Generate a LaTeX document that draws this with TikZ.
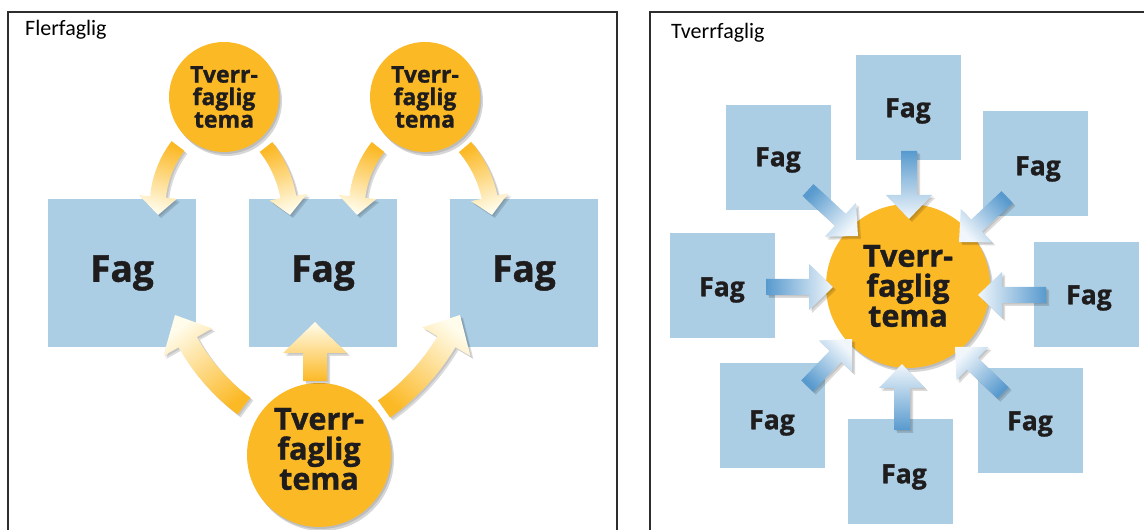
\documentclass[tikz,border=0pt]{standalone}
\usepackage{fontspec}
\setmainfont{Carlito}
\newfontfamily\osans{Open Sans}[BoldFeatures={FakeBold=1.2}]
\usetikzlibrary{calc,shadows}
\definecolor{temaor}{RGB}{252,185,38}
\definecolor{fagblue}{RGB}{171,206,229}
\definecolor{bluetail}{RGB}{88,154,206}
\definecolor{bluetip}{RGB}{240,246,251}
\definecolor{ortip}{RGB}{255,252,236}
\definecolor{txtcol}{RGB}{30,28,29}
\definecolor{framecol}{RGB}{45,45,45}

% block arrow: #1 tail, #2 tip, #3 bend, #4 shaft half width, #5 head half width, #6 head length, #7 tail colour, #8 tip colour
\newcommand\blockarrow[8]{%
  \path (#1); \pgfgetlastxy{\baTx}{\baTy}%
  \path (#2); \pgfgetlastxy{\baPx}{\baPy}%
  \pgfmathsetmacro\baph{atan2(\baPy-\baTy,\baPx-\baTx)}%
  \pgfmathsetmacro\bahd{\baph-(#3)}%
  \pgfmathsetmacro\baBx{\baPx-(#6)*cos(\bahd)}%
  \pgfmathsetmacro\baBy{\baPy-(#6)*sin(\bahd)}%
  \pgfmathsetmacro\baps{atan2(\baBy-\baTy,\baBx-\baTx)}%
  \pgfmathsetmacro\baL{veclen(\baBx-\baTx,\baBy-\baTy)}%
  \pgfmathsetmacro\bata{\baps+(#3)}%
  \pgfmathsetmacro\batb{\baps-(#3)}%
  \pgfmathsetmacro\bak{\baL/(3*cos((#3)/2)^2)}%
  \pgfmathsetmacro\bakL{\bak*(1+2*(#4)*sin(#3)/\baL)}%
  \pgfmathsetmacro\bakR{\bak*(1-2*(#4)*sin(#3)/\baL)}%
  \pgfmathsetmacro\basa{\baph-90}%
  \shade[arrowshadow, top color=#8, bottom color=#7, shading angle=\basa]
    ($(\baTx,\baTy)+({\bata+90}:#4)$)
    .. controls ($(\baTx,\baTy)+({\bata+90}:#4)+(\bata:\bakL)$)
           and ($(\baBx,\baBy)+({\batb+90}:#4)+({\batb+180}:\bakL)$)
    .. ($(\baBx,\baBy)+({\batb+90}:#4)$)
    -- ($(\baBx,\baBy)+({\batb+90}:#5)$)
    -- (#2)
    -- ($(\baBx,\baBy)+({\batb-90}:#5)$)
    -- ($(\baBx,\baBy)+({\batb-90}:#4)$)
    .. controls ($(\baBx,\baBy)+({\batb-90}:#4)+({\batb+180}:\bakR)$)
           and ($(\baTx,\baTy)+({\bata-90}:#4)+(\bata:\bakR)$)
    .. ($(\baTx,\baTy)+({\bata-90}:#4)$) -- cycle;
}

\begin{document}
\begin{tikzpicture}[x=1pt,y=1pt,
  framestyle/.style={draw=framecol, line width=1.5pt},
  lbl/.style={inner sep=0pt, anchor=base west, font=\fontsize{22}{24}\selectfont},
  arrowshadow/.style={general shadow={fill=black, opacity=.10, shadow xshift=1.5pt, shadow yshift=-1.5pt},
                      general shadow={fill=black, opacity=.14, shadow xshift=3pt, shadow yshift=-3pt}},
  circshadow/.style={general shadow={fill=black, opacity=.12, shadow xshift=1.5pt, shadow yshift=-2pt},
                     general shadow={fill=black, opacity=.16, shadow xshift=3pt, shadow yshift=-4pt}},
  lbox/.style={fill=fagblue, minimum width=148, minimum height=148, inner sep=0pt, text=txtcol,
               font=\osans\bfseries\fontsize{37}{40}\selectfont},
  rbox/.style={fill=fagblue, minimum width=105, minimum height=105, inner sep=0pt},
  rfag/.style={text=txtcol, inner sep=0pt, font=\osans\bfseries\fontsize{26.5}{30}\selectfont},
  scirc/.style={circle, circshadow, fill=temaor, minimum size=110, inner sep=0pt, align=center, text=txtcol,
                font=\osans\bfseries\fontsize{23}{22.5}\selectfont},
  bcirc/.style={circle, circshadow, fill=temaor, inner sep=0pt},
  btxt/.style={align=center, text=txtcol, inner sep=0pt, font=\osans\bfseries\fontsize{30.5}{30}\selectfont}
]
\useasboundingbox (0,0) rectangle (1144,530);

% ---------------- left panel ----------------
\draw[framestyle] (8,-3) -- (8,518) -- (617,518) -- (617,-3);
\node[lbl] (lab1) at (25,494) {Flerfaglig};

\node[lbox] (f1) at (122,257) {Fag};
\node[lbox] (f2) at (323,257) {Fag};
\node[lbox] (f3) at (524,257) {Fag};

\node[scirc] (t1) at (224,433) {Tverr-\\faglig\\tema};
\node[scirc] (t2) at (425,433) {Tverr-\\faglig\\tema};

\node[bcirc, minimum size=144] (tb) at (319,75) {};
\node[btxt] (tbt) at ($(tb)+(0,6)$) {Tverr-\\faglig\\tema};

\coordinate (a1t) at (178,384); \coordinate (a1p) at (158,315);
\coordinate (a2t) at (266,383); \coordinate (a2p) at (290,315);
\coordinate (a3t) at (378,383); \coordinate (a3p) at (357,315);
\coordinate (a4t) at (465,383); \coordinate (a4p) at (492,315);
\blockarrow{a1t}{a1p}{-16}{8}{19}{18}{temaor}{ortip}
\blockarrow{a2t}{a2p}{14}{8}{19}{18}{temaor}{ortip}
\blockarrow{a3t}{a3p}{-16}{8}{19}{18}{temaor}{ortip}
\blockarrow{a4t}{a4p}{14}{8}{19}{18}{temaor}{ortip}

\coordinate (b1t) at (244,124); \coordinate (b1p) at (175,215);
\coordinate (b2t) at (315,149); \coordinate (b2p) at (315,208);
\coordinate (b3t) at (384,121); \coordinate (b3p) at (460,215);
\blockarrow{b1t}{b1p}{12}{10.5}{28}{30}{temaor}{ortip}
\blockarrow{b2t}{b2p}{0}{12}{32}{31}{temaor}{ortip}
\blockarrow{b3t}{b3p}{-12}{10.5}{28}{30}{temaor}{ortip}

% ---------------- right panel ----------------
\draw[framestyle] (650,-3) -- (650,518) -- (1147,518);
\node[lbl] (lab2) at (671,491) {Tverrfaglig};

\node[rbox, label={[rfag, yshift=-3]center:Fag}] (r1) at (908,422) {};
\node[rbox, label={[rfag, yshift=-2]center:Fag}] (r2) at (778,372) {};
\node[rbox, label={[rfag, xshift=3, yshift=-5]center:Fag}] (r3) at (1035,366) {};
\node[rbox, label={[rfag, yshift=-4]center:Fag}] (r4) at (722,244) {};
\node[rbox, label={[rfag, xshift=3, yshift=-3]center:Fag}] (r5) at (1086,235) {};
\node[rbox, label={[rfag, yshift=-7]center:Fag}] (r6) at (772,114) {};
\node[rbox, label={[rfag, xshift=4, yshift=-5]center:Fag}] (r7) at (900,58) {};
\node[rbox, label={[rfag, yshift=-3]center:Fag}] (r8) at (1030,109) {};

\node[bcirc, minimum size=164, align=center, text=txtcol,
      font=\osans\bfseries\fontsize{30.5}{30}\selectfont] (tc) at (908,244) {Tverr-\\faglig\\tema};

\coordinate (p1t) at (909,379);  \coordinate (p1p) at (909,311);
\coordinate (p2t) at (808,340);  \coordinate (p2p) at (858,294);
\coordinate (p3t) at (1007,333); \coordinate (p3p) at (959,288);
\coordinate (p4t) at (766,243);  \coordinate (p4p) at (833,243);
\coordinate (p5t) at (1046,235); \coordinate (p5p) at (978,235);
\coordinate (p6t) at (807,144);  \coordinate (p6p) at (852,191);
\coordinate (p7t) at (902,100);  \coordinate (p7p) at (902,166);
\coordinate (p8t) at (1003,137); \coordinate (p8p) at (955,183);
\foreach \i in {1,...,8}{\blockarrow{p\i t}{p\i p}{0}{8}{23}{24}{bluetail}{bluetip}}
\end{tikzpicture}
\end{document}
